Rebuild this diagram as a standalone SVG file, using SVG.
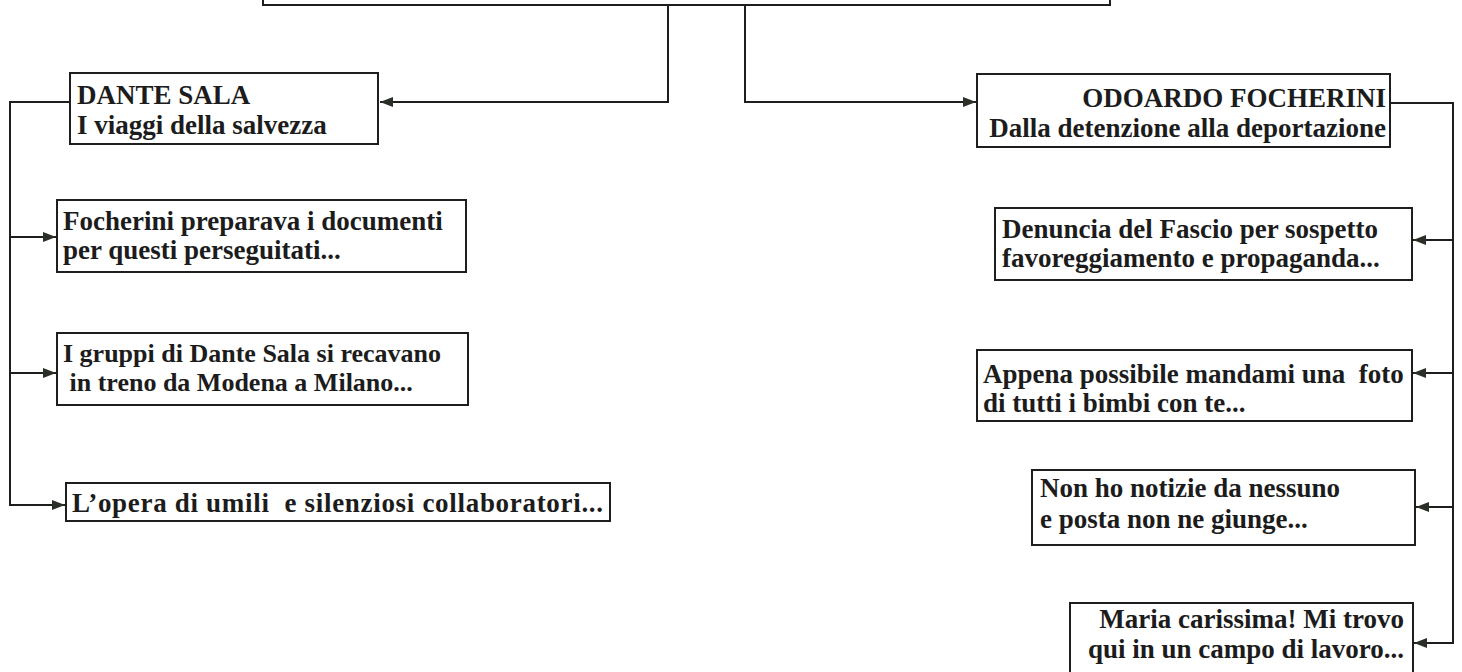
<svg xmlns="http://www.w3.org/2000/svg" width="1462" height="672" viewBox="0 0 1462 672">
<style>
.box{fill:#fff;stroke:#1e1e1e;stroke-width:2}
.t{font-family:"Liberation Serif","Times New Roman",serif;font-weight:bold;font-size:27px;fill:#1c1c1c}
.s{font-size:26px}
.r{text-anchor:end}
.c{fill:none;stroke:#1e1e1e;stroke-width:2}
</style>
<defs>
<marker id="ah" viewBox="0 0 13 10" refX="13" refY="5" markerWidth="13" markerHeight="10" markerUnits="userSpaceOnUse" orient="auto">
<path d="M0,0 L13,5 L0,10 z" fill="#2a2f28"/>
</marker>
</defs>
<rect width="1462" height="672" fill="#fff"/>
<g id="top"><rect class="box" x="263" y="-40" width="847" height="45"/></g>
<g id="connectors">
<path class="c" d="M668,5 V102 H380" marker-end="url(#ah)"/>
<path class="c" d="M745,5 V102 H976" marker-end="url(#ah)"/>
<path class="c" d="M70,102 H10 V505 H65" marker-end="url(#ah)"/>
<path class="c" d="M10,237 H56" marker-end="url(#ah)"/>
<path class="c" d="M10,373 H56" marker-end="url(#ah)"/>
<path class="c" d="M1390,103 H1453 V643 H1414" marker-end="url(#ah)"/>
<path class="c" d="M1453,240 H1413" marker-end="url(#ah)"/>
<path class="c" d="M1453,373 H1413" marker-end="url(#ah)"/>
<path class="c" d="M1453,507 H1416" marker-end="url(#ah)"/>
</g>
<g id="dante"><rect class="box" x="70" y="73" width="308" height="71"/>
<text class="t" x="77" y="104">DANTE SALA</text><text class="t" x="77" y="134">I viaggi della salvezza</text></g>
<g id="odoardo"><rect class="box" x="977" y="74" width="413" height="73"/>
<text class="t r" x="1386" y="107">ODOARDO FOCHERINI</text><text class="t r" x="1386" y="137">Dalla detenzione alla deportazione</text></g>
<g id="l1"><rect class="box" x="57" y="200" width="409" height="72"/>
<text class="t" x="63" y="230">Focherini preparava i documenti</text><text class="t" x="63" y="259">per questi perseguitati...</text></g>
<g id="l2"><rect class="box" x="57" y="333" width="411" height="72"/>
<text class="t s" x="63" y="362">I gruppi di Dante Sala si recavano</text><text class="t s" x="63" y="391" xml:space="preserve"> in treno da Modena a Milano...</text></g>
<g id="l3"><rect class="box" x="66" y="483" width="544" height="38"/>
<text class="t" x="72" y="512" textLength="531" lengthAdjust="spacing" xml:space="preserve">L’opera di umili  e silenziosi collaboratori...</text></g>
<g id="r1"><rect class="box" x="995" y="208" width="417" height="72"/>
<text class="t" x="1002" y="238">Denuncia del Fascio per sospetto</text><text class="t" x="1002" y="267">favoreggiamento e propaganda...</text></g>
<g id="r2"><rect class="box" x="977" y="350" width="435" height="71"/>
<text class="t" x="983" y="383" xml:space="preserve">Appena possibile mandami una  foto</text><text class="t" x="983" y="412">di tutti i bimbi con te...</text></g>
<g id="r3"><rect class="box" x="1032" y="470" width="383" height="75"/>
<text class="t" x="1040" y="497">Non ho notizie da nessuno</text><text class="t" x="1040" y="528">e posta non ne giunge...</text></g>
<g id="r4"><rect class="box" x="1070" y="603" width="343" height="72"/>
<text class="t r" x="1404" y="628">Maria carissima! Mi trovo</text><text class="t r" x="1404" y="658">qui in un campo di lavoro...</text></g>
</svg>
